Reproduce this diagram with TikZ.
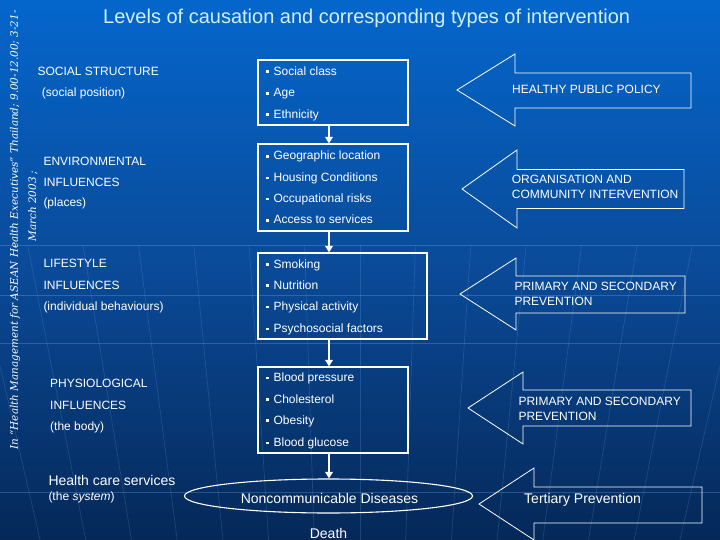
\documentclass[tikz,border=0pt]{standalone}
\usepackage{fontspec}
\setmainfont{Liberation Sans}
\newfontfamily\vfont{DejaVu Serif}
\usetikzlibrary{shapes.geometric,arrows.meta}
\definecolor{bgtop}{RGB}{4,102,204}
\definecolor{bgmid}{RGB}{10,74,152}
\definecolor{bgbot}{RGB}{5,40,88}
\definecolor{titlecol}{RGB}{208,240,255}
\definecolor{gridcol}{RGB}{120,175,240}
\newcommand\sqbul{\rule[2.4pt]{2.6pt}{2.6pt}\hspace{4.8pt}}
\begin{document}
\begin{tikzpicture}[x=1pt,y=-1pt,
  box/.style={draw=white, line width=1.1pt, inner sep=0pt},
  itm/.style={anchor=base west, inner sep=0pt, text=white, font=\fontsize{12}{14}\selectfont},
  big/.style={anchor=base west, inner sep=0pt, text=white, font=\fontsize{14}{16}\selectfont},
  bigarrow/.style={draw=white, line width=0.8pt, line join=miter},
  conn/.style={draw=white, line width=1.8pt, -{Triangle[length=6.5pt,width=7.5pt]}},
  bgline/.style={draw=gridcol, line width=0.7pt, opacity=0.3},
  vtxt/.style={rotate=90, inner sep=0pt, text=white, font=\vfont\itshape\fontsize{10.4}{12}\selectfont}]
\useasboundingbox (0,0) rectangle (720,540);
% background
\fill[top color=bgtop, bottom color=bgbot, middle color=bgmid] (0,0) rectangle (720,540);
\foreach \yy in {245,295,343,492} {\draw[bgline] (0,\yy) -- (720,\yy);}
\begin{scope}
\clip (0,245) rectangle (720,540);
\foreach \k in {-8,...,8} {\draw[bgline, opacity=0.2] ({360+\k*55.4},245) -- ({360+\k*45.7},540);}
\end{scope}
% title
\node[anchor=base, inner sep=0pt, text=titlecol, font=\fontsize{20}{24}\selectfont] (title) at (366.7,23.3) {Levels of causation and corresponding types of intervention};
% vertical note
\node[vtxt] (v1) at (15,230) {In “Health Management for ASEAN Health Executives” Thailand; 9.00-12.00; 3-21-};
\node[vtxt] (v2) at (33,206) {March 2003 ;};
% boxes
\node[box, minimum width=150pt, minimum height=65pt] (b1) at (333,92.5) {};
\node[box, minimum width=150pt, minimum height=87pt] (b2) at (333,187.5) {};
\node[box, minimum width=169pt, minimum height=86pt] (b3) at (342.5,296) {};
\node[box, minimum width=150pt, minimum height=86pt] (b4) at (333,410) {};
\node[draw=white, line width=1.1pt, ellipse, minimum width=288pt, minimum height=34pt, inner sep=0pt] (ell) at (328.5,496) {};
% box items
\node[itm] (i11) at (266,75.5) {\sqbul Social class};
\node[itm] (i12) at (266,97) {\sqbul Age};
\node[itm] (i13) at (266,118.3) {\sqbul Ethnicity};
\node[itm] (i21) at (266,160) {\sqbul Geographic location};
\node[itm] (i22) at (266,181.7) {\sqbul Housing Conditions};
\node[itm] (i23) at (266,202.7) {\sqbul Occupational risks};
\node[itm] (i24) at (266,224) {\sqbul Access to services};
\node[itm] (i31) at (266,268) {\sqbul Smoking};
\node[itm] (i32) at (266,289.3) {\sqbul Nutrition};
\node[itm] (i33) at (266,310.7) {\sqbul Physical activity};
\node[itm] (i34) at (266,332.7) {\sqbul Psychosocial factors};
\node[itm] (i41) at (266,381.7) {\sqbul Blood pressure};
\node[itm] (i42) at (266,403.3) {\sqbul Cholesterol};
\node[itm] (i43) at (266,424.3) {\sqbul Obesity};
\node[itm] (i44) at (266,446.7) {\sqbul Blood glucose};
% left labels
\node[itm] (l11) at (37.3,75.3) {SOCIAL STRUCTURE};
\node[itm] (l12) at (41.7,96.7) {(social position)};
\node[itm] (l21) at (43.3,165.7) {ENVIRONMENTAL};
\node[itm] (l22) at (43.3,187) {INFLUENCES};
\node[itm] (l23) at (43.3,207) {(places)};
\node[itm] (l31) at (43.3,267.3) {LIFESTYLE};
\node[itm] (l32) at (43.3,289) {INFLUENCES};
\node[itm] (l33) at (43.3,310) {(individual behaviours)};
\node[itm] (l41) at (50,387.3) {PHYSIOLOGICAL};
\node[itm] (l42) at (50,409) {INFLUENCES};
\node[itm] (l43) at (50,430) {(the body)};
\node[big] (l51) at (48.3,485.7) {Health care services};
\node[itm] (l52) at (48.3,500) {(the \textit{system})};
% connectors
\draw[conn] ([xshift=-4pt]b1.south) -- ([xshift=-4pt]b2.north);
\draw[conn] ([xshift=-4pt]b2.south) -- ([xshift=-4pt]b2.south |- b3.north);
\draw[conn] ([xshift=-4pt]b4.north |- b3.south) -- ([xshift=-4pt]b4.north);
\draw[conn] ([xshift=-4pt]b4.south) -- ([xshift=-4pt]b4.south |- ell.north);
% disease and death
\node[anchor=base, inner sep=0pt, text=white, font=\fontsize{14}{16}\selectfont] (ncd) at (329.5,503.3) {Noncommunicable Diseases};
\node[anchor=base, inner sep=0pt, text=white, font=\fontsize{14}{16}\selectfont] (death) at (328.5,538.5) {Death};
% intervention arrows
\draw[bigarrow] (457,90) -- (515,54) -- (515,73) -- (691,73) -- (691,108) -- (515,108) -- (515,126) -- cycle;
\draw[bigarrow] (462,189) -- (517,150) -- (517,169.5) -- (684,169.5) -- (684,208.5) -- (517,208.5) -- (517,228) -- cycle;
\draw[bigarrow] (460,294) -- (516,258) -- (516,276) -- (685,276) -- (685,313) -- (516,313) -- (516,330) -- cycle;
\draw[bigarrow] (468,408) -- (523,372) -- (523,390) -- (691,390) -- (691,426) -- (523,426) -- (523,444) -- cycle;
\draw[bigarrow] (479,504) -- (534,468) -- (534,487) -- (702,487) -- (702,523) -- (534,523) -- (534,540) -- cycle;
\node[itm] (a1) at (512,93.3) {HEALTHY PUBLIC POLICY};
\node[itm] (a21) at (511.7,183.3) {ORGANISATION AND};
\node[itm] (a22) at (511.7,199) {COMMUNITY INTERVENTION};
\node[itm] (a31) at (514.3,290.7) {PRIMARY AND SECONDARY};
\node[itm] (a32) at (514.3,305.7) {PREVENTION};
\node[itm] (a41) at (518.3,405) {PRIMARY AND SECONDARY};
\node[itm] (a42) at (518.3,420) {PREVENTION};
\node[big] (a5) at (524,503.3) {Tertiary Prevention};
\end{tikzpicture}
\end{document}
